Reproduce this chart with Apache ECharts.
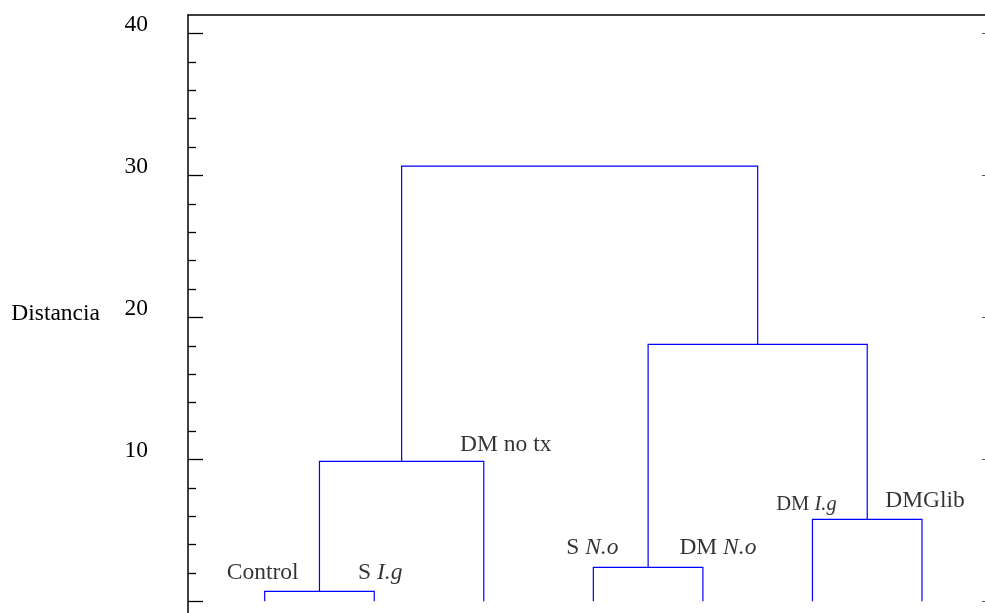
<!DOCTYPE html>
<html>
<head>
<meta charset="utf-8">
<script src="https://cdn.jsdelivr.net/npm/echarts@6/dist/echarts.min.js"></script>
<style>
html,body{margin:0;padding:0;background:#fff;}
#chart{width:985px;height:613px;}
</style>
</head>
<body>
<div id="chart"></div>
<script>
// ---- data ----
const leaves = ['Control', 'S I.g', 'DM no tx', 'S N.o', 'DM N.o', 'DM I.g', 'DMGlib'];
// linkage: cluster ids >= leaves.length refer to earlier merges
const mergeLeft = [0, 7, 3, 5, 9, 8];
const mergeRight = [1, 2, 4, 6, 10, 11];
const mergeHeight = [0.7, 9.86, 2.39, 5.77, 18.1, 30.65];
const yTickValues = [0, 10, 20, 30, 40];
const yTickLabels = [10, 20, 30, 40];
const yMinorTickValues = [2, 4, 6, 8, 12, 14, 16, 18, 22, 24, 26, 28, 32, 34, 36, 38];
const yAxisTitle = 'Distancia';

// ---- styles (not data) ----
const labelNudge = [[-2, 0], [6, 0], [22, 2], [-1, -1], [15, -1], [-6, 3], [3, 0]];
const labelSize = [23.5, 23.5, 23.5, 23.5, 23.5, 20.5, 23.5];
const serif = "'Liberation Serif','Times New Roman',Times,serif";

// ---- build dendrogram geometry from linkage ----
const n = leaves.length;
const nodeX = leaves.map((_, i) => i);
const nodeH = leaves.map(() => 0);
const parentH = leaves.map(() => 0);
const segs = [];
mergeLeft.forEach((l, k) => {
  const r = mergeRight[k], h = mergeHeight[k];
  segs.push([nodeX[l], nodeH[l], nodeX[r], nodeH[r], h]);
  nodeX[n + k] = (nodeX[l] + nodeX[r]) / 2;
  nodeH[n + k] = h;
  if (l < n) parentH[l] = h;
  if (r < n) parentH[r] = h;
});

const labelData = leaves.map((name, i) => ({
  value: [i, parentH[i]],
  name: name,
  label: {
    fontSize: labelSize[i],
    offset: labelNudge[i],
    color: '#000',
    rich: {
      n: { fontSize: labelSize[i], fontFamily: serif, color: '#000' },
      i: { fontStyle: 'italic', fontSize: labelSize[i], fontFamily: serif, color: '#000' }
    }
  }
}));

const chart = echarts.init(document.getElementById('chart'), null, { renderer: 'canvas' });
const axisBase = { min: -0.82, max: 41.3, type: 'value', splitLine: { show: false } };
chart.setOption({
  animation: false,
  backgroundColor: '#fff',
  grid: { left: 188, right: 0, top: 15, bottom: 0, containLabel: false, outerBoundsMode: 'none' },
  xAxis: [
    { type: 'value', min: -0.7, max: 6.575, show: false },
    { type: 'value', min: -0.7, max: 6.575, position: 'top',
      axisLine: { show: true, onZero: false, lineStyle: { color: '#000', width: 1.5 } },
      axisTick: { show: false }, axisLabel: { show: false }, splitLine: { show: false } }
  ],
  yAxis: [
    Object.assign({}, axisBase, {
      position: 'left',
      name: yAxisTitle, nameLocation: 'middle', nameRotate: 0, nameGap: 88,
      nameTextStyle: { fontFamily: serif, fontSize: 23.5, color: '#000', align: 'right', verticalAlign: 'middle' },
      axisLine: { show: true, onZero: false, lineStyle: { color: '#000', width: 1.5 } },
      axisTick: { show: true, inside: true, length: 15, customValues: yTickValues, lineStyle: { color: '#000', width: 1.3 } },
      axisLabel: { show: true, customValues: yTickLabels, margin: 40, fontFamily: serif, fontSize: 23.5,
                   color: '#000', verticalAlign: 'bottom', lineHeight: 18 }
    }),
    Object.assign({}, axisBase, {
      position: 'left',
      axisLine: { show: false, onZero: false },
      axisTick: { show: true, inside: true, length: 8, customValues: yMinorTickValues, lineStyle: { color: '#000', width: 1.3 } },
      axisLabel: { show: false }
    }),
    Object.assign({}, axisBase, {
      position: 'right',
      axisLine: { show: false, onZero: false },
      axisTick: { show: true, inside: true, length: 3, customValues: yTickValues, lineStyle: { color: '#555', width: 1 } },
      axisLabel: { show: false }
    })
  ],
  series: [
    {
      type: 'custom',
      xAxisIndex: 0, yAxisIndex: 0,
      data: segs,
      encode: { x: [0, 2], y: [1, 3, 4] },
      renderItem: function (params, api) {
        const xl = api.value(0), hl = api.value(1), xr = api.value(2), hr = api.value(3), h = api.value(4);
        const p1 = api.coord([xl, hl]), p2 = api.coord([xl, h]), p3 = api.coord([xr, h]), p4 = api.coord([xr, hr]);
        return {
          type: 'polyline',
          shape: { points: [p1, p2, p3, p4] },
          style: { stroke: '#0000ff', lineWidth: 1.2, fill: null }
        };
      },
      silent: true
    },
    {
      type: 'scatter',
      xAxisIndex: 0, yAxisIndex: 0,
      symbolSize: 0,
      data: labelData,
      silent: true,
      label: {
        show: true,
        position: 'top',
        distance: 7,
        color: '#000',
        fontFamily: serif,
        formatter: function (p) {
          return p.name.split(/(I\.g|N\.o)/).filter(s => s.length)
            .map(s => /^(I\.g|N\.o)$/.test(s) ? '{i|' + s + '}' : '{n|' + s + '}').join('');
        }
      }
    }
  ]
});
</script>
</body>
</html>
